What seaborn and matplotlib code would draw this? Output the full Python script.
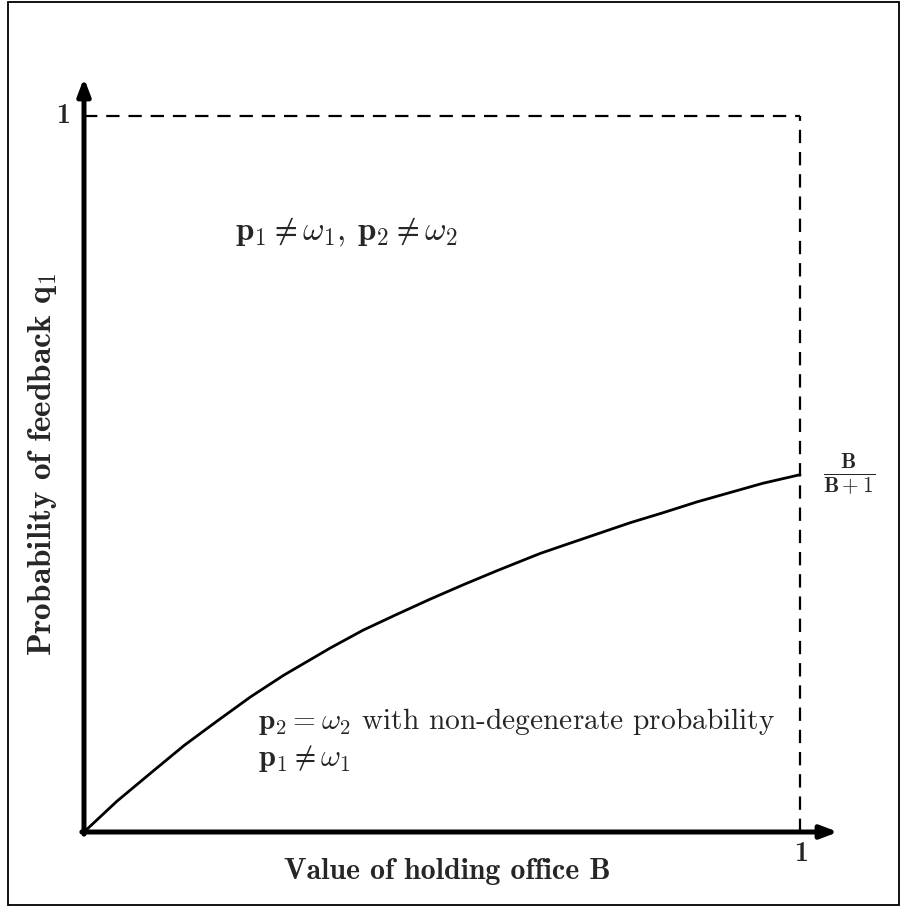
import matplotlib
matplotlib.use("Agg")
import matplotlib.pyplot as plt
import seaborn as sns
import pandas as pd
from matplotlib.patches import Rectangle

# values (B, q1)
b_values = [0.0, 0.046, 0.094, 0.140, 0.186, 0.233, 0.279, 0.344, 0.390, 0.437, 0.483,
            0.529, 0.577, 0.637, 0.669, 0.716, 0.763, 0.809, 0.856, 0.902, 0.948, 1.0]
q_values = [0.0, 0.043, 0.083, 0.121, 0.155, 0.189, 0.219, 0.257, 0.282, 0.304, 0.325,
            0.345, 0.365, 0.389, 0.400, 0.416, 0.432, 0.446, 0.461, 0.474, 0.487, 0.499]

x_tick_labels = ["1"]
y_tick_labels = ["1"]

x_label = "Value of holding office B"
y_label = r"Probability of feedback $\mathbf{q}_\mathbf{1}$"
top_region = r"$\mathbf{p}_\mathbf{1} \neq \omega_\mathbf{1}$, $\mathbf{p}_\mathbf{2} \neq \omega_\mathbf{2}$"
low_region_1 = r"$\mathbf{p}_\mathbf{2} = \omega_\mathbf{2}$ with non-degenerate probability"
low_region_2 = r"$\mathbf{p}_\mathbf{1} \neq \omega_\mathbf{1}$"
end_label = r"$\frac{\mathbf{B}}{\mathbf{B+1}}$"

sns.set_style("white")
plt.rcParams["mathtext.fontset"] = "cm"
plt.rcParams["font.family"] = ["cmr10", "DejaVu Serif"]
plt.rcParams["axes.formatter.use_mathtext"] = True

W, H = 902, 907
fig = plt.figure(figsize=(W / 100, H / 100), dpi=100)

# axes placed so that origin and unit points land where the reference has them
ox, oy = 84, 832      # origin in pixels
unit = 716            # pixels per data unit
xmax = (838 - ox) / unit
ymax = (oy - 78) / unit
ax = fig.add_axes([ox / W, (H - oy) / H, (838 - ox) / W, (oy - 78) / H])
ax.set_xlim(0, xmax)
ax.set_ylim(0, ymax)
for s in ax.spines.values():
    s.set_visible(False)
ax.set_xticks([])
ax.set_yticks([])
ax.patch.set_alpha(0)

df = pd.DataFrame({"B": b_values, "q": q_values})
sns.lineplot(data=df, x="B", y="q", ax=ax, color="black", linewidth=2.0, clip_on=False)
ax.set_xlabel("")
ax.set_ylabel("")

# dashed box
ax.plot([0, 1], [1, 1], color="black", lw=1.6, ls=(0, (6, 4)))
ax.plot([1, 1], [0, 1], color="black", lw=1.6, ls=(0, (6, 4)))

# thick axes with arrows
arrow = dict(arrowstyle="-|>,head_length=1.0,head_width=0.38", color="black", lw=3.6,
             shrinkA=0, shrinkB=0)
ax.annotate("", xy=(xmax, 0), xytext=(-0.003, 0), arrowprops=arrow, annotation_clip=False)
ax.annotate("", xy=(0, ymax), xytext=(0, -0.003), arrowprops=arrow, annotation_clip=False)

ax.text(-0.019, 1, y_tick_labels[0], ha="right", va="center", fontsize=20, family="cmb10")
ax.text(1.001, -0.012, x_tick_labels[0], ha="center", va="top", fontsize=20, family="cmb10")
ax.text(1.032, 0.499, end_label, ha="left", va="center", fontsize=22)

ax.text(0.211, 0.828, top_region, ha="left", va="baseline", fontsize=23.8)
ax.text(0.243, 0.144, low_region_1, ha="left", va="baseline", fontsize=21.2)
ax.text(0.243, 0.092, low_region_2, ha="left", va="baseline", fontsize=22)

fig.text(447 / W, 1 - 879 / H, x_label, ha="center", va="baseline", fontsize=21.5,
         family="cmb10")
fig.text(43 / W, 1 - 464 / H, y_label, ha="center", va="center", rotation=90,
         fontsize=24, family="cmb10")

# outer frame
fig.patches.append(Rectangle((8 / W, 2 / H), 891 / W, 903 / H, transform=fig.transFigure,
                             fill=False, edgecolor="black", lw=1.3))

fig.savefig("out.png", dpi=100)
